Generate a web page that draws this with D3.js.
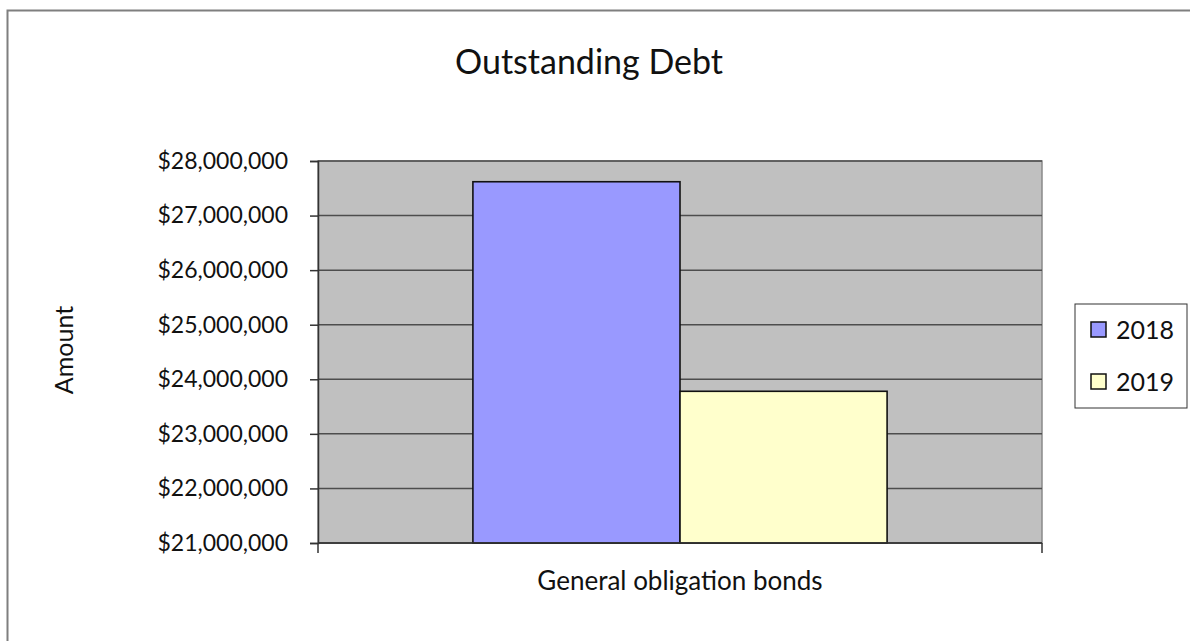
<!DOCTYPE html>
<html>
<head>
<meta charset="utf-8">
<script src="https://cdn.jsdelivr.net/npm/d3@7"></script>
<style>
  body { margin: 0; background: #fff; }
  text { font-family: Lato, "Open Sans", sans-serif; fill: #111; }
</style>
</head>
<body>
<div id="chart"></div>
<script>
// Data
const categories = ['General obligation bonds'];
const seriesNames = ['2018', '2019'];
const values2018 = [27620000];
const values2019 = [23780000];
const yTicks = [21000000, 22000000, 23000000, 24000000, 25000000, 26000000, 27000000, 28000000];
const colors = ['#9999ff', '#ffffcc'];

const width = 1190, height = 641;
const margin = { top: 161, right: 148, bottom: 98, left: 318 };
const innerW = width - margin.left - margin.right;
const innerH = height - margin.top - margin.bottom;

const svg = d3.select('#chart').append('svg')
  .attr('width', width)
  .attr('height', height);

// Outer chart border (right/bottom run off the picture)
svg.append('rect')
  .attr('x', 7.5).attr('y', 10.5)
  .attr('width', 1200).attr('height', 700)
  .attr('fill', 'none').attr('stroke', '#7f7f7f').attr('stroke-width', 2);

const g = svg.append('g').attr('transform', `translate(${margin.left},${margin.top})`);

// Scales
const x0 = d3.scaleBand().domain(categories).range([0, innerW]).paddingInner(0).paddingOuter(0.374);
const x1 = d3.scaleBand().domain(seriesNames).range([0, x0.bandwidth()]);
const y = d3.scaleLinear().domain([21000000, 28000000]).range([innerH, 0]);

// Plot background
g.append('rect')
  .attr('width', innerW).attr('height', innerH)
  .attr('fill', '#c0c0c0')
  .attr('stroke', '#8a8a8a').attr('stroke-width', 1.5);

// Gridlines
g.append('g')
  .selectAll('line')
  .data(yTicks)
  .join('line')
  .attr('x1', 0).attr('x2', innerW)
  .attr('y1', d => y(d)).attr('y2', d => y(d))
  .attr('stroke', '#4d4d4d').attr('stroke-width', 1.5);

// Bars
const rows = categories.map((c, i) => ({ cat: c, vals: [values2018[i], values2019[i]] }));
g.append('g')
  .selectAll('g')
  .data(rows)
  .join('g')
  .attr('transform', d => `translate(${x0(d.cat)},0)`)
  .selectAll('rect')
  .data(d => d.vals.map((v, j) => ({ key: seriesNames[j], v, j })))
  .join('rect')
  .attr('x', d => x1(d.key))
  .attr('y', d => y(d.v))
  .attr('width', x1.bandwidth())
  .attr('height', d => innerH - y(d.v))
  .attr('fill', d => colors[d.j])
  .attr('stroke', '#111').attr('stroke-width', 1.6);

// Y axis
const fmt = d => '$' + d3.format(',')(d);
const yAxis = g.append('g')
  .call(d3.axisLeft(y).tickValues(yTicks).tickFormat(fmt).tickSize(8).tickPadding(22));
yAxis.select('.domain').attr('stroke', '#333').attr('stroke-width', 1.5);
yAxis.selectAll('.tick line').attr('stroke', '#333').attr('stroke-width', 1.5);
yAxis.selectAll('text').style('font-size', '23px').style('font-family', 'Lato, sans-serif').attr('fill', '#111');

// X axis
const xAxis = g.append('g').attr('transform', `translate(0,${innerH})`);
xAxis.append('line').attr('x1', 0).attr('x2', innerW)
  .attr('stroke', '#333').attr('stroke-width', 1.5);
xAxis.selectAll('.xt')
  .data([0, innerW])
  .join('line')
  .attr('x1', d => d).attr('x2', d => d)
  .attr('y1', 0).attr('y2', 10)
  .attr('stroke', '#333').attr('stroke-width', 1.5);
xAxis.selectAll('.xl')
  .data(categories)
  .join('text')
  .attr('x', d => x0(d) + x0.bandwidth() / 2)
  .attr('y', 47)
  .attr('text-anchor', 'middle')
  .style('font-size', '26px')
  .text(d => d);

// Title
svg.append('text')
  .attr('x', 589).attr('y', 74)
  .attr('text-anchor', 'middle')
  .style('font-size', '34px')
  .text('Outstanding Debt');

// Y label
svg.append('text')
  .attr('transform', 'translate(73,350) rotate(-90)')
  .attr('text-anchor', 'middle')
  .style('font-size', '25px')
  .text('Amount');

// Legend
const legend = svg.append('g').attr('transform', 'translate(1075,304)');
legend.append('rect')
  .attr('width', 112).attr('height', 104)
  .attr('fill', '#fff').attr('stroke', '#333').attr('stroke-width', 1);
const li = legend.selectAll('.li')
  .data(seriesNames)
  .join('g')
  .attr('transform', (d, i) => `translate(16,${26 + i * 52})`);
li.append('rect')
  .attr('x', 0).attr('y', -8)
  .attr('width', 15).attr('height', 15)
  .attr('fill', (d, i) => colors[i])
  .attr('stroke', '#111').attr('stroke-width', 1.5);
li.append('text')
  .attr('x', 25).attr('y', 0)
  .attr('dy', '0.35em')
  .style('font-size', '25px')
  .text(d => d);
</script>
</body>
</html>
